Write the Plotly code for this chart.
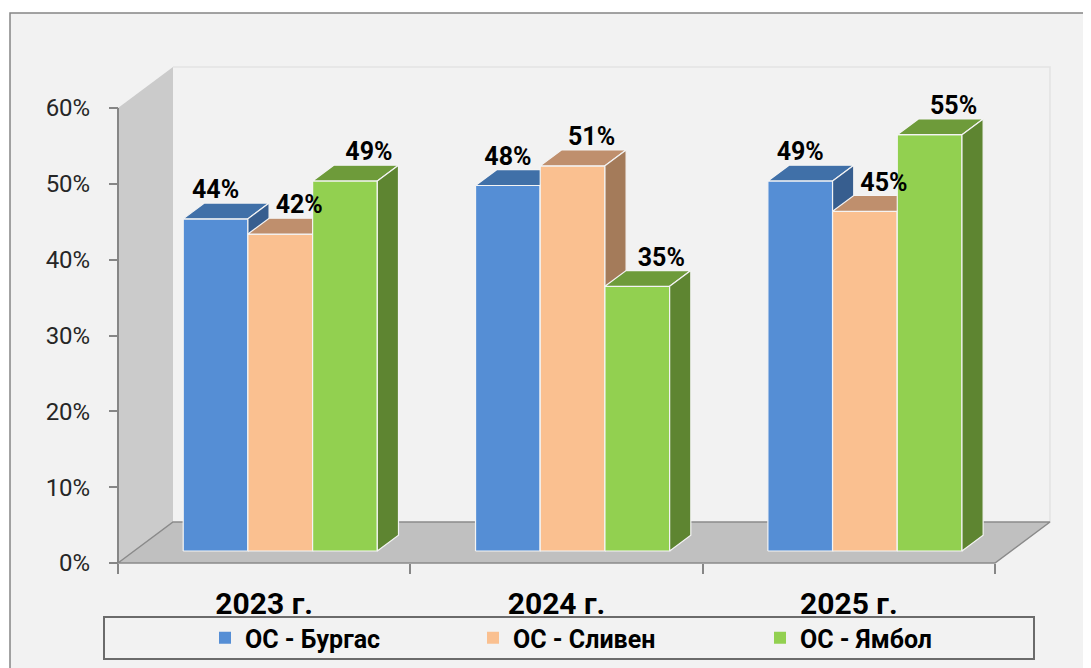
import plotly.graph_objects as go

# ---------------- data ----------------
categories = ["2023 г.", "2024 г.", "2025 г."]
series_names = ["ОС - Бургас", "ОС - Сливен", "ОС - Ямбол"]
burgas = [43.8, 48.2, 48.8]
sliven = [41.8, 50.8, 44.8]
yambol = [48.8, 34.9, 54.9]
y_tick_values = [0, 10, 20, 30, 40, 50, 60]
y_tick_labels = ["0%", "10%", "20%", "30%", "40%", "50%", "60%"]

series_values = [burgas, sliven, yambol]

# ---------------- style ----------------
front_colors = ["#558ED5", "#FAC090", "#92D050"]
top_colors = ["#4070A8", "#BF8F6D", "#6E9B3A"]
side_colors = ["#375E8F", "#A47B5A", "#5E8531"]
FONT = "Roboto"

PAGE_OFF = 8                      # the page body margin
W_FIG, H_FIG = 1091 - PAGE_OFF, 668 - PAGE_OFF


def fx(px):  # reference page pixel -> figure pixel
    return px - PAGE_OFF


ML, MT = fx(100), fx(55)
PLOT_RIGHT, PLOT_BOTTOM = fx(1065), fx(575)
MR, MB = W_FIG - PLOT_RIGHT, H_FIG - PLOT_BOTTOM
PW = PLOT_RIGHT - ML
PH = PLOT_BOTTOM - MT
X0_PX, Y0_PX = fx(118), fx(563)   # origin
PX_PER_UNIT = 292.33              # pixels per category
PX_PER_PCT = 7.583                # pixels per percent

DXU = 55 / PX_PER_UNIT            # full depth, x shift (data units)
DYU = 41 / PX_PER_PCT             # full depth, y shift (data units)
Z0 = 12 / 41                      # bar front depth
Z1 = Z0 + 0.385                   # bar back depth
BAR_W = 64.7 / PX_PER_UNIT
Y_MAX_WALL = 60

LABEL_DX_PX = [0, 19, 24]
LABEL_DY_PX = 27


def proj(x, y, z):
    return x + z * DXU, y + z * DYU


def poly(points, fill, line_color, line_width=1):
    xs, ys = [], []
    for p in points:
        px, py = proj(*p)
        xs.append(px)
        ys.append(py)
    xs.append(xs[0])
    ys.append(ys[0])
    return go.Scatter(x=xs, y=ys, mode="lines", fill="toself", fillcolor=fill,
                      line=dict(color=line_color, width=line_width),
                      hoverinfo="skip", showlegend=False)


fig = go.Figure()

n_cat = len(categories)
# side wall
fig.add_trace(poly([(0, 0, 0), (0, Y_MAX_WALL, 0), (0, Y_MAX_WALL, 1), (0, 0, 1)],
                   "#CBCBCB", "rgba(0,0,0,0)", 0))
# back wall edges
bx, by = [], []
for p in [(0, Y_MAX_WALL, 1), (n_cat, Y_MAX_WALL, 1), (n_cat, 0, 1)]:
    a, b = proj(*p)
    bx.append(a)
    by.append(b)
fig.add_trace(go.Scatter(x=bx, y=by, mode="lines", line=dict(color="#E3E3E3", width=1.5),
                         hoverinfo="skip", showlegend=False))
# floor
fig.add_trace(poly([(0, 0, 0), (n_cat, 0, 0), (n_cat, 0, 1), (0, 0, 1)],
                   "#C0C0C0", "#8A8A8A", 1.5))

# bars
for i in range(n_cat):
    for j, vals in enumerate(series_values):
        v = vals[i]
        xl = i + 0.5 - 1.5 * BAR_W + j * BAR_W
        xr = xl + BAR_W
        fig.add_trace(poly([(xl, 0, Z0), (xr, 0, Z0), (xr, v, Z0), (xl, v, Z0)],
                           front_colors[j], "#F4F4F4", 1.2))
        fig.add_trace(poly([(xl, v, Z0), (xr, v, Z0), (xr, v, Z1), (xl, v, Z1)],
                           top_colors[j], "#F4F4F4", 1.2))
        fig.add_trace(poly([(xr, 0, Z0), (xr, v, Z0), (xr, v, Z1), (xr, 0, Z1)],
                           side_colors[j], "#F4F4F4", 1.2))

# data labels
for j, vals in enumerate(series_values):
    lx, ly, lt = [], [], []
    for i in range(n_cat):
        v = vals[i]
        xc = i + 0.5 - BAR_W + j * BAR_W
        px, py = proj(xc, v, Z0)
        lx.append(px + LABEL_DX_PX[j] / PX_PER_UNIT)
        ly.append(py + LABEL_DY_PX / PX_PER_PCT)
        lt.append(f"{v:.0f}%")
    fig.add_trace(go.Scatter(x=lx, y=ly, text=lt, mode="text", textposition="middle center",
                             textfont=dict(family=FONT, size=25, color="#000000", weight="bold"),
                             hoverinfo="skip", showlegend=False, cliponaxis=False))

# y axis line
fig.add_trace(go.Scatter(x=[0, 0], y=[0, Y_MAX_WALL], mode="lines",
                         line=dict(color="#868686", width=2), hoverinfo="skip", showlegend=False))

# legend-only bar traces
legend_ids = ["legend", "legend2", "legend3"]
for j, name in enumerate(series_names):
    fig.add_trace(go.Bar(x=[None], y=[None], name=name, legend=legend_ids[j],
                         marker=dict(color=front_colors[j], line=dict(width=0))))


def paper_x(px):
    return (fx(px) - ML) / PW


def paper_y(py):
    return (MT + PH - fx(py)) / PH


shapes = [
    dict(type="rect", xref="paper", yref="paper", layer="below",
         x0=paper_x(10), x1=paper_x(1100), y0=paper_y(690), y1=paper_y(13),
         fillcolor="#F2F2F2", line=dict(color="#858585", width=1.5)),
    dict(type="rect", xref="paper", yref="paper", layer="above",
         x0=paper_x(104), x1=paper_x(1034), y0=paper_y(659), y1=paper_y(617),
         fillcolor="#F2F2F2", line=dict(color="#6B6B6B", width=2)),
]

legend_left_px = [205, 473, 760]
legend_common = dict(orientation="h", xanchor="left", yanchor="middle",
                     y=paper_y(638), bgcolor="rgba(0,0,0,0)", borderwidth=0,
                     font=dict(family=FONT, size=25, color="#000000", weight="bold"))

fig.update_layout(
    width=W_FIG, height=H_FIG,
    margin=dict(l=ML, r=MR, t=MT, b=MB, autoexpand=False),
    paper_bgcolor="#FFFFFF", plot_bgcolor="rgba(0,0,0,0)",
    showlegend=True,
    shapes=shapes,
    legend=dict(x=paper_x(legend_left_px[0]), **legend_common),
    legend2=dict(x=paper_x(legend_left_px[1]), **legend_common),
    legend3=dict(x=paper_x(legend_left_px[2]), **legend_common),
    xaxis=dict(
        range=[(ML - X0_PX) / PX_PER_UNIT, (ML + PW - X0_PX) / PX_PER_UNIT],
        anchor="free", position=(MT + PH - Y0_PX) / PH,
        tickmode="array", tickvals=[i + 0.5 for i in range(n_cat)], ticktext=categories,
        ticks="", showline=False, showgrid=False, zeroline=False, automargin=False,
        ticklabelstandoff=20,
        tickfont=dict(family=FONT, size=30, color="#000000", weight="bold"),
        minor=dict(tickmode="array", tickvals=list(range(n_cat + 1)), ticks="outside",
                   ticklen=10, tickwidth=2, tickcolor="#868686", showgrid=False),
        fixedrange=True,
    ),
    yaxis=dict(
        range=[-(MT + PH - Y0_PX) / PX_PER_PCT, (Y0_PX - MT) / PX_PER_PCT],
        anchor="free", position=(X0_PX - ML) / PW,
        tickmode="array", tickvals=y_tick_values, ticktext=y_tick_labels,
        ticks="outside", ticklen=9, tickwidth=2, tickcolor="#868686",
        showline=False, showgrid=False, zeroline=False, automargin=False,
        ticklabelstandoff=14,
        tickfont=dict(family=FONT, size=24, color="#262626"),
        fixedrange=True,
    ),
)

fig.write_html("out.html")
